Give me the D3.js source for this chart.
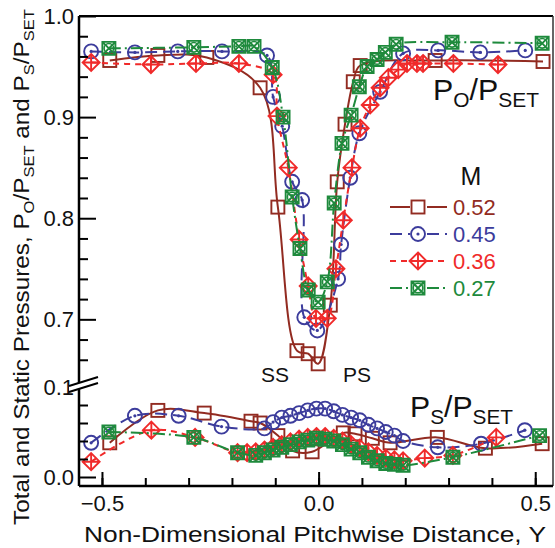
<!DOCTYPE html>
<html>
<head>
<meta charset="utf-8">
<script src="https://cdn.jsdelivr.net/npm/d3@7"></script>
<style>
  html, body { margin: 0; padding: 0; background: #fff; }
  svg { display: block; font-family: "Liberation Sans", Arial, sans-serif; }
</style>
</head>
<body>
<svg id="chart" width="555" height="548"></svg>
<script>
// ---- data: [Y, P/Pset] pairs per Mach number ----
const machLabels = ["0.52", "0.45", "0.36", "0.27"];

// total pressure, Po/Pset
const po052 = [[-0.482,0.956],[-0.371,0.961],[-0.258,0.959],[-0.135,0.929],[-0.094,0.811],[-0.050,0.669],[-0.024,0.666],[-0.001,0.656],[0.027,0.714],[0.043,0.836],[0.061,0.893],[0.080,0.935],[0.096,0.951],[0.269,0.956],[0.518,0.955]];
const po045 = [[-0.525,0.965],[-0.424,0.964],[-0.325,0.965],[-0.223,0.965],[-0.119,0.961],[-0.105,0.920],[-0.084,0.891],[-0.061,0.836],[-0.038,0.818],[-0.033,0.702],[-0.003,0.689],[0.045,0.740],[0.052,0.774],[0.073,0.840],[0.094,0.884],[0.142,0.925],[0.195,0.963],[0.276,0.966],[0.373,0.964],[0.477,0.966]];
const po036 = [[-0.525,0.954],[-0.387,0.952],[-0.283,0.953],[-0.184,0.953],[-0.105,0.942],[-0.096,0.901],[-0.070,0.850],[-0.045,0.779],[-0.024,0.733],[-0.006,0.701],[0.020,0.701],[0.040,0.750],[0.057,0.798],[0.077,0.850],[0.096,0.889],[0.119,0.912],[0.142,0.929],[0.161,0.939],[0.184,0.947],[0.204,0.953],[0.227,0.953],[0.241,0.953],[0.311,0.953],[0.414,0.952]];
const po027 = [[-0.484,0.968],[-0.288,0.969],[-0.184,0.970],[-0.149,0.970],[-0.107,0.949],[-0.082,0.900],[-0.061,0.821],[-0.043,0.770],[-0.024,0.729],[-0.001,0.717],[0.020,0.737],[0.036,0.815],[0.054,0.874],[0.075,0.902],[0.094,0.930],[0.112,0.950],[0.135,0.957],[0.154,0.964],[0.179,0.972],[0.308,0.974],[0.516,0.973]];

// static pressure, Ps/Pset
const ps052 = [[-0.482,0.038],[-0.371,0.074],[-0.264,0.071],[-0.156,0.062],[-0.135,0.060],[-0.094,0.046],[-0.060,0.029],[-0.015,0.028],[0.057,0.049],[0.084,0.048],[0.124,0.043],[0.165,0.038],[0.274,0.044],[0.385,0.032],[0.516,0.037]];
const ps045 = [[-0.525,0.038],[-0.424,0.068],[-0.323,0.068],[-0.224,0.056],[-0.125,0.054],[-0.105,0.061],[-0.085,0.066],[-0.065,0.068],[-0.045,0.071],[-0.025,0.074],[-0.005,0.076],[0.015,0.076],[0.035,0.073],[0.055,0.069],[0.075,0.066],[0.095,0.063],[0.115,0.058],[0.135,0.054],[0.155,0.050],[0.175,0.046],[0.195,0.040],[0.275,0.033],[0.375,0.037],[0.476,0.052]];
const ps036 = [[-0.525,0.017],[-0.386,0.052],[-0.285,0.044],[-0.187,0.027],[-0.165,0.027],[-0.145,0.028],[-0.125,0.030],[-0.105,0.033],[-0.085,0.036],[-0.065,0.039],[-0.045,0.042],[-0.025,0.044],[-0.005,0.045],[0.015,0.045],[0.035,0.043],[0.055,0.040],[0.075,0.036],[0.095,0.032],[0.115,0.028],[0.135,0.024],[0.155,0.021],[0.175,0.019],[0.195,0.018],[0.245,0.021],[0.310,0.024],[0.410,0.044]];
const ps027 = [[-0.484,0.050],[-0.288,0.044],[-0.187,0.027],[-0.145,0.024],[-0.125,0.027],[-0.105,0.030],[-0.085,0.033],[-0.065,0.036],[-0.045,0.039],[-0.025,0.041],[-0.005,0.043],[0.015,0.042],[0.035,0.040],[0.055,0.036],[0.075,0.031],[0.095,0.027],[0.115,0.022],[0.135,0.018],[0.155,0.015],[0.175,0.014],[0.195,0.013],[0.310,0.022],[0.510,0.046]];

// axis ticks
const xMinorTicks = [-0.5,-0.4,-0.3,-0.2,-0.1,0,0.1,0.2,0.3,0.4,0.5];
const xMajorTicks = [-0.5, 0, 0.5];
const yUpMinorTicks = [0.66,0.68,0.72,0.74,0.76,0.78,0.82,0.84,0.86,0.88,0.92,0.94,0.96,0.98];
const yUpMajorTicks = [0.7, 0.8, 0.9, 1.0];
const yLowMinorTicks = [0.02, 0.04, 0.06, 0.08];
const yLowMajorTicks = [0.0];
const yLowLabelTicks = [0.1];

// ---- styles per series ----
const styles = [
  { color: "#922b21", dash: null,          marker: "square"  },
  { color: "#3c3c9c", dash: "12,6",        marker: "circle"  },
  { color: "#f02a2a", dash: "6,5",         marker: "diamond" },
  { color: "#1e8a3c", dash: "12,4,2,4",    marker: "xsquare" }
];
const poSeries = [po052, po045, po036, po027];
const psSeries = [ps052, ps045, ps036, ps027];

// ---- layout ----
const L = 79, R = 553, T = 16, B = 486;
const x = d3.scaleLinear().domain([-0.553, 0.541]).range([L, R]);
const yUp = d3.scaleLinear().domain([0.64, 1.0]).range([380, T]);
const yLow = d3.scaleLinear().domain([-0.01, 0.1]).range([B, 387]);

const svg = d3.select("#chart");
svg.append("rect").attr("width", 555).attr("height", 548).attr("fill", "#fff");

function drawMarker(g, type, color) {
  const sw = 1.9;
  if (type === "square") {
    g.append("rect").attr("x", -6.5).attr("y", -6.5).attr("width", 13).attr("height", 13)
      .attr("fill", "none").attr("stroke", color).attr("stroke-width", sw);
  } else if (type === "circle") {
    g.append("circle").attr("r", 7).attr("fill", "none").attr("stroke", color).attr("stroke-width", sw);
    g.append("circle").attr("r", 1.6).attr("fill", color);
  } else if (type === "diamond") {
    g.append("path").attr("d", "M0,-8.5L8.5,0L0,8.5L-8.5,0Z M0,-8.5L0,8.5 M-8.5,0L8.5,0")
      .attr("fill", "none").attr("stroke", color).attr("stroke-width", sw);
  } else {
    g.append("path").attr("d", "M-6.5,-6.5H6.5V6.5H-6.5Z M-6.5,-6.5L6.5,6.5 M6.5,-6.5L-6.5,6.5")
      .attr("fill", "none").attr("stroke", color).attr("stroke-width", sw);
    g.append("circle").attr("r", 4.8).attr("fill", "none").attr("stroke", color).attr("stroke-width", 1.6);
  }
}

function drawSeries(data, yScale, st) {
  const line = d3.line().x(d => x(d[0])).y(d => yScale(d[1])).curve(d3.curveCatmullRom.alpha(0.5));
  const g = svg.append("g");
  g.append("path").attr("d", line(data)).attr("fill", "none")
    .attr("stroke", st.color).attr("stroke-width", 2)
    .attr("stroke-dasharray", st.dash);
  g.selectAll("g.m").data(data).join("g").attr("class", "m")
    .attr("transform", d => `translate(${x(d[0])},${yScale(d[1])})`)
    .each(function () { drawMarker(d3.select(this), st.marker, st.color); });
}

psSeries.forEach((s, i) => drawSeries(s, yLow, styles[i]));
poSeries.forEach((s, i) => drawSeries(s, yUp, styles[i]));

// ---- axes ----
const tickFont = 22;
function styleAxis(g) {
  g.select(".domain").remove();
  g.selectAll(".tick line").attr("stroke", "#000").attr("stroke-width", 2);
  g.selectAll(".tick text").attr("fill", "#111").style("font-size", tickFont + "px")
    .style("font-family", "'Liberation Sans', Arial, sans-serif");
}
const fmt = d3.format(".1f");

svg.append("g").attr("transform", `translate(0,${B})`)
  .call(d3.axisBottom(x).tickValues(xMinorTicks).tickSize(-8).tickFormat(""))
  .call(styleAxis);
svg.append("g").attr("transform", `translate(0,${B})`)
  .call(d3.axisBottom(x).tickValues(xMajorTicks).tickSize(-14).tickPadding(9).tickFormat(fmt))
  .call(styleAxis);

svg.append("g").attr("transform", `translate(${L},0)`)
  .call(d3.axisLeft(yUp).tickValues(yUpMinorTicks).tickSize(-9).tickFormat(""))
  .call(styleAxis);
svg.append("g").attr("transform", `translate(${L},0)`)
  .call(d3.axisLeft(yUp).tickValues(yUpMajorTicks).tickSize(-17).tickPadding(5).tickFormat(fmt))
  .call(styleAxis);
svg.append("g").attr("transform", `translate(${L},0)`)
  .call(d3.axisLeft(yLow).tickValues(yLowMinorTicks).tickSize(-9).tickFormat(""))
  .call(styleAxis);
svg.append("g").attr("transform", `translate(${L},0)`)
  .call(d3.axisLeft(yLow).tickValues(yLowMajorTicks).tickSize(-17).tickPadding(5).tickFormat(fmt))
  .call(styleAxis);
svg.append("g").attr("transform", `translate(${L},0)`)
  .call(d3.axisLeft(yLow).tickValues(yLowLabelTicks).tickSize(0).tickPadding(5).tickFormat(fmt))
  .call(styleAxis);

// frame
svg.append("line").attr("x1", L).attr("x2", R).attr("y1", T).attr("y2", T).attr("stroke", "#000").attr("stroke-width", 2);
svg.append("line").attr("x1", R).attr("x2", R).attr("y1", T).attr("y2", B).attr("stroke", "#333").attr("stroke-width", 1.5);
svg.append("line").attr("x1", L).attr("x2", R).attr("y1", B).attr("y2", B).attr("stroke", "#000").attr("stroke-width", 2.5);
svg.append("line").attr("x1", L).attr("x2", L).attr("y1", T).attr("y2", B).attr("stroke", "#000").attr("stroke-width", 2.5);

// axis break
svg.append("path").attr("d", "M69,386 L98,377 L98,383 L69,392 Z").attr("fill", "#fff");
svg.append("path").attr("d", "M69,386 L98,377 M69,392 L98,383")
  .attr("stroke", "#000").attr("stroke-width", 2).attr("fill", "none");

// ---- axis titles ----
svg.append("text").attr("x", 84).attr("y", 542)
  .attr("textLength", 462).attr("lengthAdjust", "spacingAndGlyphs")
  .style("font-size", "22px").attr("fill", "#111")
  .text("Non-Dimensional Pitchwise Distance, Y");

const yt = svg.append("text").attr("transform", "translate(29,525) rotate(-90)")
  .attr("textLength", 516).attr("lengthAdjust", "spacingAndGlyphs")
  .style("font-size", "22px").attr("fill", "#111");
yt.append("tspan").text("Total and Static Pressures, P");
yt.append("tspan").attr("dy", 5).style("font-size", "15px").text("O");
yt.append("tspan").attr("dy", -5).text("/P");
yt.append("tspan").attr("dy", 5).style("font-size", "15px").text("SET");
yt.append("tspan").attr("dy", -5).text(" and P");
yt.append("tspan").attr("dy", 5).style("font-size", "15px").text("S");
yt.append("tspan").attr("dy", -5).text("/P");
yt.append("tspan").attr("dy", 5).style("font-size", "15px").text("SET");

// ---- annotations ----
function ratioLabel(xp, yp, sub, w) {
  const t = svg.append("text").attr("x", xp).attr("y", yp)
    .attr("textLength", w).attr("lengthAdjust", "spacingAndGlyphs")
    .style("font-size", "29px").attr("fill", "#111");
  t.append("tspan").text("P");
  t.append("tspan").attr("dy", 7).style("font-size", "20px").text(sub);
  t.append("tspan").attr("dy", -7).text("/P");
  t.append("tspan").attr("dy", 7).style("font-size", "20px").text("SET");
}
ratioLabel(433, 100, "O", 106);
ratioLabel(410, 417, "S", 103);

svg.append("text").attr("x", 275).attr("y", 382).attr("text-anchor", "middle")
  .style("font-size", "21px").attr("fill", "#111").text("SS");
svg.append("text").attr("x", 357).attr("y", 382).attr("text-anchor", "middle")
  .style("font-size", "21px").attr("fill", "#111").text("PS");

// ---- legend ----
svg.append("text").attr("x", 471).attr("y", 185).attr("text-anchor", "middle")
  .style("font-size", "25px").attr("fill", "#111").text("M");
machLabels.forEach((lab, i) => {
  const st = styles[i];
  const cy = 207 + i * 27;
  const g = svg.append("g");
  [[390, 410], [427, 447]].forEach(([a, b]) => {
    g.append("line").attr("x1", a).attr("x2", b).attr("y1", cy).attr("y2", cy)
      .attr("stroke", st.color).attr("stroke-width", 2).attr("stroke-dasharray", st.dash);
  });
  drawMarker(g.append("g").attr("transform", `translate(418,${cy})`), st.marker, st.color);
  svg.append("text").attr("x", 453).attr("y", cy + 8).style("font-size", "22px")
    .attr("fill", st.color).text(lab);
});
</script>
</body>
</html>
